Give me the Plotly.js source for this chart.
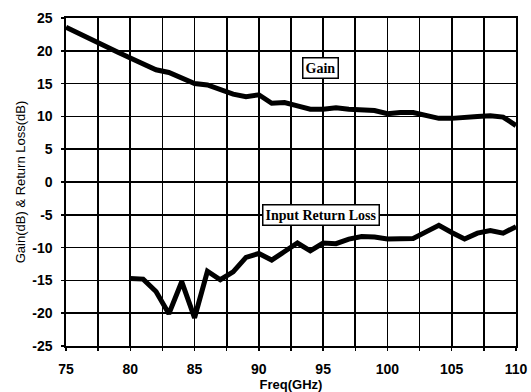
<!DOCTYPE html>
<html>
<head>
<meta charset="utf-8">
<script src="https://cdn.plot.ly/plotly-3.0.1.min.js"></script>
<style>html,body{margin:0;padding:0;background:#fff;}#chart{width:531px;height:392px;}</style>
</head>
<body>
<div id="chart"></div>
<script>
const freqGain = [75,76,77,78,79,80,81,82,83,84,85,86,87,88,89,90,91,92,93,94,95,96,97,98,99,100,101,102,103,104,105,106,107,108,109,110];
const gain = [23.6,22.6,21.6,20.8,19.8,18.9,18.1,17.1,16.7,15.8,15.0,14.8,14.0,13.4,13.0,13.3,12.0,12.1,11.6,11.1,11.1,11.3,11.1,11.0,10.9,10.4,10.6,10.6,10.2,9.7,9.7,9.9,10.0,10.1,9.9,8.6];
const freqRL = [80,81,82,83,84,85,86,87,88,89,90,91,92,93,94,95,96,97,98,99,100,101,102,103,104,105,106,107,108,109,110];
const returnLoss = [-14.7,-14.8,-16.7,-20.1,-15.2,-20.7,-13.6,-14.9,-13.7,-11.5,-10.9,-11.9,-10.6,-9.3,-10.5,-9.3,-9.4,-8.7,-8.3,-8.4,-8.7,-8.7,-8.6,-7.6,-6.6,-7.7,-8.7,-7.8,-7.4,-7.8,-6.8];
const xTicks = [75,80,85,90,95,100,105,110];
const yTicks = [-25,-20,-15,-10,-5,0,5,10,15,20,25];
const labels = [{text:'Gain', x:94.8, y:17.4}, {text:'Input Return Loss', x:94.8, y:-5.0}];

const data = [
  {x: freqGain, y: gain, type:'scatter', mode:'lines', line:{color:'#000', width:5}, showlegend:false, hoverinfo:'skip'},
  {x: freqRL, y: returnLoss, type:'scatter', mode:'lines', line:{color:'#000', width:5}, showlegend:false, hoverinfo:'skip'}
];
const tickFont = {family:'Liberation Sans, Arial, sans-serif', size:14, color:'#000', weight:'bold'};
const layout = {
  width:531, height:392,
  margin:{l:66, r:15, t:18, b:46},
  paper_bgcolor:'#fff', plot_bgcolor:'#fff',
  xaxis:{
    range:[75,110], tickvals:xTicks, ticktext:xTicks.map(String),
    showgrid:true, gridcolor:'#000', gridwidth:1.6,
    minor:{dtick:2.5, tick0:75, showgrid:true, gridcolor:'#000', gridwidth:1.6, ticks:'outside', ticklen:3, tickcolor:'#000'},
    ticks:'outside', ticklen:3, tickcolor:'#000', tickwidth:1.5, ticklabelstandoff:7,
    showline:true, linecolor:'#000', linewidth:1.6, mirror:true,
    zeroline:false, tickfont:tickFont,
    title:{text:'Freq(GHz)', font:{family:'Liberation Sans, Arial, sans-serif', size:13, color:'#000', weight:'bold'}, standoff:0}
  },
  yaxis:{
    range:[-25,25], tickvals:yTicks, ticktext:yTicks.map(String),
    showgrid:true, gridcolor:'#000', gridwidth:1.6,
    ticks:'outside', ticklen:3, tickcolor:'#000', tickwidth:1.5, ticklabelstandoff:6,
    showline:true, linecolor:'#000', linewidth:1.6, mirror:true,
    zeroline:false, tickfont:tickFont,
    title:{text:'Gain(dB) & Return Loss(dB)', font:{family:'Liberation Sans, Arial, sans-serif', size:13, color:'#000'}, standoff:4}
  },
  annotations: labels.map(l => ({
    x:l.x, y:l.y, xref:'x', yref:'y', text:'<b>'+l.text+'</b>', showarrow:false,
    font:{family:'Liberation Serif, Times New Roman, serif', size:14, color:'#000'},
    bgcolor:'#fff', bordercolor:'#000', borderwidth:1.5, borderpad:2
  }))
};
Plotly.newPlot('chart', data, layout, {staticPlot:true, displayModeBar:false});
</script>
</body>
</html>
